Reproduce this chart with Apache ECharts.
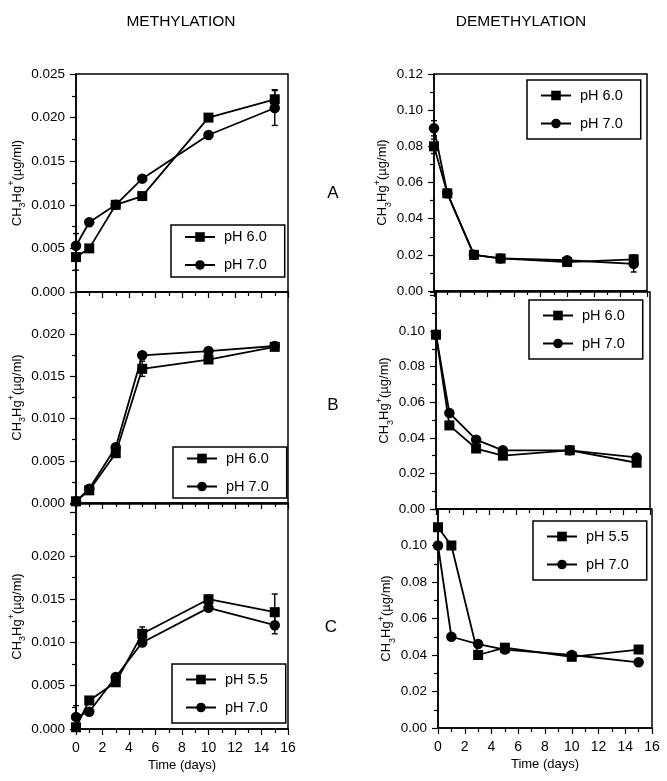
<!DOCTYPE html>
<html><head><meta charset="utf-8">
<script src="https://cdn.jsdelivr.net/npm/echarts@6/dist/echarts.min.js"></script>
<style>html,body{margin:0;padding:0;background:#fff}#c{width:667px;height:781px}</style>
</head><body><div id="c"></div>
<script>
// ---- data ----
const days = [0, 1, 3, 5, 10, 15];
const xTickLabels = [0, 2, 4, 6, 8, 10, 12, 14, 16];
const methA_pH60 = [0.0040, 0.0050, 0.0100, 0.0110, 0.0200, 0.0221];
const methA_pH70 = [0.0053, 0.0080, 0.0100, 0.0130, 0.0180, 0.0211];
const methB_pH60 = [0.0002, 0.0015, 0.0059, 0.0159, 0.0170, 0.0185];
const methB_pH70 = [0.0002, 0.0017, 0.0066, 0.0175, 0.0180, 0.0186];
const methC_pH55 = [0.0002, 0.0033, 0.0054, 0.0110, 0.0150, 0.0135];
const methC_pH70 = [0.0014, 0.0020, 0.0060, 0.0100, 0.0140, 0.0120];
const demA_pH60 = [0.080, 0.054, 0.020, 0.018, 0.016, 0.0175];
const demA_pH70 = [0.090, 0.054, 0.020, 0.018, 0.017, 0.015];
const demB_pH60 = [0.098, 0.047, 0.034, 0.030, 0.033, 0.026];
const demB_pH70 = [0.098, 0.054, 0.039, 0.033, 0.033, 0.029];
const demC_pH55 = [0.110, 0.100, 0.040, 0.044, 0.039, 0.043];
const demC_pH70 = [0.100, 0.050, 0.046, 0.043, 0.040, 0.036];
// error bars: [day, low, high]
const errMethA = [[0, 0.0025, 0.0055], [0, 0.0040, 0.0067], [15, 0.0211, 0.0232], [15, 0.0191, 0.0231]];
const errMethB = [[5, 0.0150, 0.0168]];
const errMethC = [[0, 0.0001, 0.0027], [5, 0.0102, 0.0118], [15, 0.0115, 0.0156], [15, 0.0110, 0.0130]];
const errDemA = [[0, 0.0858, 0.0942], [0, 0.076, 0.084], [15, 0.0105, 0.0199]];
const errDemB = [];
const errDemC = [];
const namesAB = ['pH 6.0', 'pH 7.0'];
const namesC = ['pH 5.5', 'pH 7.0'];
const yName = 'CH{sub|3}Hg{sup|+}(\u00b5g/ml)';

// ---- layout ----
const FONT = '"Liberation Sans", Arial, Helvetica, sans-serif';
const panels = [
  {grid: [76, 74, 212, 218], ymax: 0.025, yint: 0.005, dec: 3, lab: 0.025, names: namesAB, data: [methA_pH60, methA_pH70], err: errMethA, lg: [171, 225, 4], bottom: false, gap: 47},
  {grid: [76, 292, 212, 211], ymax: 0.025, yint: 0.005, dec: 3, lab: 0.020, names: namesAB, data: [methB_pH60, methB_pH70], err: errMethB, lg: [173, 447, 3.5], bottom: false, gap: 47},
  {grid: [76, 504, 212, 225], ymax: 0.026, yint: 0.005, dec: 3, lab: 0.020, names: namesC, data: [methC_pH55, methC_pH70], err: errMethC, lg: [172, 664, 7.5], bottom: true, gap: 47},
  {grid: [434, 74, 213, 217], ymax: 0.12, yint: 0.02, dec: 2, lab: 0.12, names: namesAB, data: [demA_pH60, demA_pH70], err: errDemA, lg: [527, 80, 7.5], bottom: false, gap: 36},
  {grid: [436, 292, 214, 217], ymax: 0.122, yint: 0.02, dec: 2, lab: 0.10, names: namesAB, data: [demB_pH60, demB_pH70], err: errDemB, lg: [529, 300, 7.5], bottom: false, gap: 36},
  {grid: [438, 509, 214, 219], ymax: 0.12, yint: 0.02, dec: 2, lab: 0.10, names: namesC, data: [demC_pH55, demC_pH70], err: errDemC, lg: [533, 521, 7.5], bottom: true, gap: 36}
];

const grids = [], xAxes = [], yAxes = [], series = [], legends = [];
panels.forEach((p, i) => {
  grids.push({left: p.grid[0], top: p.grid[1], width: p.grid[2], height: p.grid[3], show: true,
    borderColor: '#000', borderWidth: 1.5, backgroundColor: 'transparent', containLabel: false});
  xAxes.push({type: 'value', gridIndex: i, min: 0, max: 16, interval: 2,
    axisLine: {show: true, lineStyle: {color: '#000', width: 1.5}},
    axisTick: {show: true, inside: false, length: 6, lineStyle: {color: '#000', width: 1.2}},
    minorTick: {show: true, splitNumber: 2, length: 4, lineStyle: {color: '#000', width: 1.2}},
    splitLine: {show: false},
    axisLabel: {show: p.bottom, margin: 12, color: '#000', fontSize: 14, fontFamily: FONT,
      formatter: v => xTickLabels.indexOf(v) >= 0 ? String(v) : ''},
    name: p.bottom ? 'Time (days)' : '', nameLocation: 'middle', nameGap: 30,
    nameTextStyle: {color: '#000', fontSize: 13, fontFamily: FONT}
  });
  yAxes.push({type: 'value', gridIndex: i, min: 0, max: p.ymax, interval: p.yint,
    axisLine: {show: true, lineStyle: {color: '#000', width: 1.5}},
    axisTick: {show: true, inside: false, length: 6, lineStyle: {color: '#000', width: 1.2}},
    minorTick: {show: true, splitNumber: 2, length: 4, lineStyle: {color: '#000', width: 1.2}},
    splitLine: {show: false},
    axisLabel: {margin: 11, color: '#000', fontSize: 13.5, fontFamily: FONT,
      formatter: v => (v > p.lab + 1e-9) ? '' : v.toFixed(p.dec)},
    name: yName, nameLocation: 'middle', nameGap: p.gap,
    nameTextStyle: {color: '#000', fontSize: 13, fontFamily: FONT, lineHeight: 20,
      rich: {
        sub: {fontSize: 9, fontFamily: FONT, color: '#000', verticalAlign: 'bottom', lineHeight: 9},
        sup: {fontSize: 9, fontFamily: FONT, color: '#000', verticalAlign: 'top', lineHeight: 9}
      }}
  });
  p.names.forEach((nm, j) => {
    series.push({type: 'line', name: nm, xAxisIndex: i, yAxisIndex: i,
      data: days.map((d, k) => [d, p.data[j][k]]),
      symbol: j === 0 ? 'rect' : 'circle', symbolSize: j === 0 ? 10 : 10.5,
      lineStyle: {color: '#000', width: 1.8}, itemStyle: {color: '#000'},
      z: 3, animation: false, silent: true});
  });
  if (p.err.length) {
    series.push({type: 'custom', xAxisIndex: i, yAxisIndex: i, data: p.err, z: 2,
      encode: {x: 0, y: [1, 2]}, animation: false, silent: true,
      renderItem: (params, api) => {
        const x = api.value(0);
        const a = api.coord([x, api.value(1)]);
        const b = api.coord([x, api.value(2)]);
        const w = 3;
        const st = {stroke: '#000', lineWidth: 1.4};
        return {type: 'group', children: [
          {type: 'line', shape: {x1: a[0], y1: a[1], x2: b[0], y2: b[1]}, style: st},
          {type: 'line', shape: {x1: a[0] - w, y1: a[1], x2: a[0] + w, y2: a[1]}, style: st},
          {type: 'line', shape: {x1: b[0] - w, y1: b[1], x2: b[0] + w, y2: b[1]}, style: st}
        ]};
      }});
  }
  legends.push({left: p.lg[0], top: p.lg[1], orient: 'vertical', data: p.names,
    itemWidth: 30, itemHeight: 12, itemGap: 12,
    padding: [p.lg[2], 18, p.lg[2], 13], borderColor: '#000', borderWidth: 1.5,
    selectedMode: false,
    textStyle: {color: '#000', fontSize: 14.5, fontFamily: FONT, lineHeight: 16, padding: [0, 0, 0, 4]}});
});

const chart = echarts.init(document.getElementById('c'));
chart.setOption({
  animation: false,
  backgroundColor: '#fff',
  grid: grids, xAxis: xAxes, yAxis: yAxes, series: series, legend: legends,
  graphic: [
    {type: 'text', x: 181, y: 22, style: {text: 'METHYLATION', fill: '#000', font: '15.5px ' + FONT, textAlign: 'center', textVerticalAlign: 'middle'}},
    {type: 'text', x: 521, y: 22, style: {text: 'DEMETHYLATION', fill: '#000', font: '15.5px ' + FONT, textAlign: 'center', textVerticalAlign: 'middle'}},
    {type: 'text', x: 333, y: 193, style: {text: 'A', fill: '#000', font: '17px ' + FONT, textAlign: 'center', textVerticalAlign: 'middle'}},
    {type: 'text', x: 333, y: 405, style: {text: 'B', fill: '#000', font: '17px ' + FONT, textAlign: 'center', textVerticalAlign: 'middle'}},
    {type: 'text', x: 331, y: 627, style: {text: 'C', fill: '#000', font: '17px ' + FONT, textAlign: 'center', textVerticalAlign: 'middle'}}
  ]
});
</script></body></html>
